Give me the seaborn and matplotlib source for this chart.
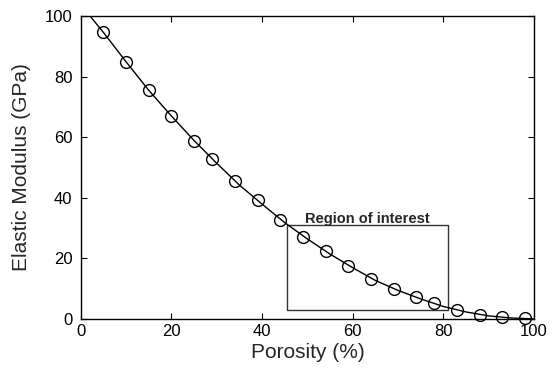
import numpy as np
import pandas as pd
import seaborn as sns
import matplotlib.pyplot as plt
from matplotlib.patches import Rectangle

# measured points (porosity %, modulus GPa)
porosity = [5, 10, 15, 20, 25, 29, 34, 39, 44, 49, 54, 59, 64, 69, 74, 78, 83, 88, 93, 98]
modulus = [94.6, 84.9, 75.5, 67.0, 58.9, 52.8, 45.5, 39.1, 32.7, 27.2, 22.3, 17.6,
           13.3, 10.0, 7.1, 5.1, 3.0, 1.4, 0.7, 0.3]

# fitted curve
fit_x = [0, 5, 10, 15, 20, 25, 30, 35, 40, 45, 50, 55, 60, 65, 70, 75, 80, 85, 90, 95, 100]
fit_y = [103.8, 94.6, 84.9, 75.5, 67.0, 58.9, 51.4, 44.2, 37.9, 31.8, 26.4, 21.4,
         16.9, 12.7, 9.4, 6.6, 4.1, 2.3, 1.0, 0.3, 0.0]

# region of interest box
roi_x = [45.5, 81.0]
roi_y = [3.0, 31.0]
roi_label = 'Region of interest'


def main():
    sns.set_style('ticks')
    plt.rcParams['font.family'] = ['Liberation Sans', 'DejaVu Sans']

    df_pts = pd.DataFrame({'porosity': porosity, 'modulus': modulus})
    df_fit = pd.DataFrame({'porosity': fit_x, 'modulus': fit_y})

    fig = plt.figure(figsize=(5.54, 3.73), dpi=100)
    ax = fig.add_axes([0.1457, 0.145, 0.8183, 0.812])

    sns.lineplot(data=df_fit, x='porosity', y='modulus', color='black', lw=1.0, ax=ax)
    sns.lineplot(data=df_pts, x='porosity', y='modulus', ax=ax, lw=0, marker='o',
                 markersize=8.5, markerfacecolor='none', markeredgecolor='black',
                 markeredgewidth=1.0, clip_on=False)

    ax.add_patch(Rectangle((roi_x[0], roi_y[0]), roi_x[1] - roi_x[0], roi_y[1] - roi_y[0],
                           fill=False, edgecolor='#333333', lw=1.0))
    ax.text((roi_x[0] + roi_x[1]) / 2, roi_y[1] + 0.7, roi_label, ha='center', va='baseline',
            fontsize=10.5, fontweight='bold')

    ax.set_xlim(0, 100)
    ax.set_ylim(0, 100)
    ax.set_xticks(range(0, 101, 20))
    ax.set_yticks(range(0, 101, 20))
    ax.tick_params(direction='in', top=True, right=True, labelsize=12, length=4,
                   width=0.8, colors='black')
    ax.tick_params(axis='y', pad=6)
    for s in ax.spines.values():
        s.set_linewidth(1.0)
        s.set_color('black')
    ax.set_xlabel('Porosity (%)', fontsize=15, labelpad=3)
    ax.set_ylabel('Elastic Modulus (GPa)', fontsize=15, labelpad=10)

    plt.savefig('out.png', dpi=100)


if __name__ == "__main__":
    main()
